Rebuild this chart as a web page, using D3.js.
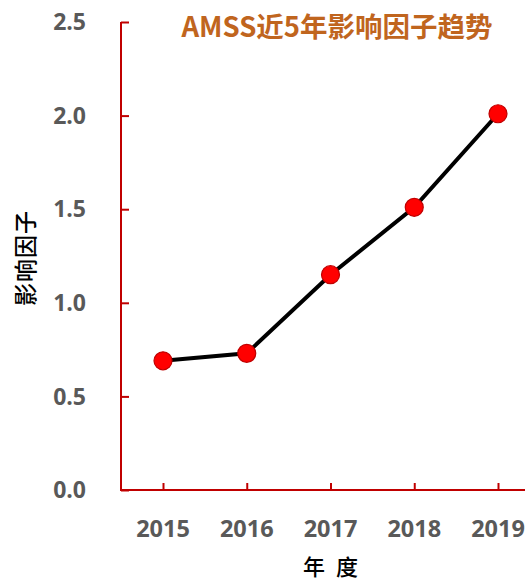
<!DOCTYPE html>
<html><head><meta charset="utf-8">
<script src="https://cdn.jsdelivr.net/npm/d3@7"></script>
<style>body{margin:0;background:#fff}svg{display:block}</style>
</head><body>
<svg id="c" width="525" height="582"></svg>
<script>
const years = ["2015","2016","2017","2018","2019"];
const impact = [0.69, 0.73, 1.15, 1.51, 2.01];
const yTicks = [0, 0.5, 1.0, 1.5, 2.0, 2.5];
const titleText = "AMSS近5年影响因子趋势";
const yTitle = "影响因子";
const xTitle = "年 度";

const svg = d3.select("#c");
const axisColor = "#C00000";
const tickColor = "#595959";
const x0 = 121, y0 = 490, yTop = 22;

const x = d3.scalePoint().domain(years).range([163, 498]);
const y = d3.scaleLinear().domain([0, 2.5]).range([y0, yTop]);

// y axis
const yAxis = svg.append("g").attr("transform", `translate(${x0},0)`)
  .call(d3.axisRight(y).tickValues(yTicks).tickSize(8).tickFormat(""));
yAxis.select(".domain").remove();
yAxis.selectAll("line").attr("stroke", axisColor).attr("stroke-width", 2);
svg.append("line").attr("x1", x0).attr("x2", x0).attr("y1", yTop).attr("y2", y0)
  .attr("stroke", axisColor).attr("stroke-width", 2);
svg.append("g").selectAll("text").data(yTicks).join("text")
  .attr("x", 86).attr("y", d => y(d)).attr("dy", "0.36em")
  .attr("text-anchor", "end").attr("fill", tickColor)
  .attr("font-family", "Open Sans").attr("font-weight", "bold").attr("font-size", 23)
  .text(d => d.toFixed(1));

// x axis
svg.append("line").attr("x1", x0 - 1).attr("x2", 525).attr("y1", y0).attr("y2", y0)
  .attr("stroke", axisColor).attr("stroke-width", 2);
const xAxis = svg.append("g").attr("transform", `translate(0,${y0})`)
  .call(d3.axisTop(x).tickSize(7).tickFormat(""));
xAxis.select(".domain").remove();
xAxis.selectAll("line").attr("stroke", axisColor).attr("stroke-width", 2);
svg.append("g").selectAll("text").data(years).join("text")
  .attr("x", d => x(d)).attr("y", 537)
  .attr("text-anchor", "middle").attr("fill", tickColor)
  .attr("font-family", "Open Sans").attr("font-weight", "bold").attr("font-size", 23.5)
  .text(d => d);

// line
const line = d3.line().x((d, i) => x(years[i])).y(d => y(d));
svg.append("path").datum(impact).attr("d", line)
  .attr("fill", "none").attr("stroke", "#000").attr("stroke-width", 4);
svg.append("g").selectAll("circle").data(impact).join("circle")
  .attr("cx", (d, i) => x(years[i])).attr("cy", d => y(d)).attr("r", 9)
  .attr("fill", "#FF0000").attr("stroke", "#C00000").attr("stroke-width", 1.2);

// titles
svg.append("text").attr("x", 337).attr("y", 37).attr("text-anchor", "middle")
  .attr("fill", "#C0651E").attr("font-family", "Noto Sans CJK SC")
  .attr("font-weight", "bold").attr("font-size", 27.5).text(titleText);
svg.append("text").attr("transform", "translate(26,258) rotate(-90)")
  .attr("text-anchor", "middle").attr("dy", "0.36em").attr("fill", "#000")
  .attr("font-family", "Noto Sans CJK SC").attr("font-weight", 500)
  .attr("font-size", 23).attr("letter-spacing", 1).text(yTitle);
svg.append("text").attr("x", 332).attr("y", 575)
  .attr("text-anchor", "middle").attr("fill", "#000")
  .attr("font-family", "Noto Sans CJK SC").attr("font-weight", 500)
  .attr("font-size", 22).attr("letter-spacing", 3).text(xTitle);
</script>
</body></html>
